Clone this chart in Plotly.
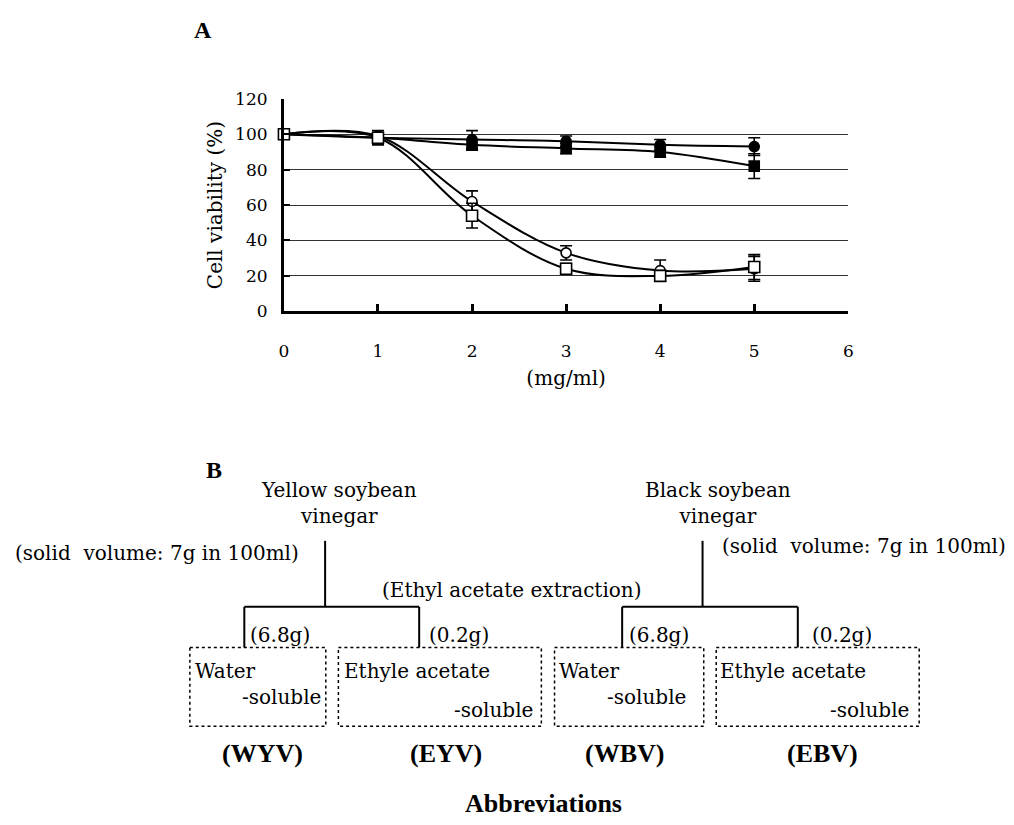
import plotly.graph_objects as go

# ---------------- data (panel A) ----------------
conc = [0, 1, 2, 3, 4, 5]
x_ticks = [0, 1, 2, 3, 4, 5, 6]
y_ticks = [0, 20, 40, 60, 80, 100, 120]

filled_circle = [100, 98, 97, 96, 94, 93]
filled_circle_err = [None, 2, 5, 3, 3, 5]
filled_square = [100, 98, 94, 92, 90, 82]
filled_square_err = [None, 2, 3, 3, 3, 7]
open_circle = [100, 99, 62, 33, 23, 24]
open_circle_err = [None, 2, 6, 4, 6, 7]
open_square = [100, 98, 54, 24, 20, 25]
open_square_err = [None, 4, 7, 3, 3, 7]

# ---------------- page geometry helpers ----------------
W, H = 1014, 825
def px(x):
    return x / W
def py(y):
    return 1 - y / H

SERIF = "DejaVu Serif"
BOLD = "Liberation Serif"

fig = go.Figure()

series = [
    (filled_circle, filled_circle_err, "circle", "black", 10),
    (filled_square, filled_square_err, "square", "black", 10),
    (open_circle, open_circle_err, "circle", "white", 10),
    (open_square, open_square_err, "square", "white", 11),
]
for vals, err, sym, fill, size in series:
    fig.add_trace(go.Scatter(
        x=conc, y=vals, mode="lines+markers",
        line=dict(color="black", width=2, shape="spline", smoothing=1.0),
        marker=dict(symbol=sym, size=size, color=fill,
                    line=dict(color="black", width=1.6)),
        error_y=dict(type="data", array=err, color="black", thickness=1.6, width=6),
        cliponaxis=False, showlegend=False,
    ))

fig.update_layout(
    width=W, height=H,
    margin=dict(l=0, r=0, t=0, b=0),
    paper_bgcolor="white", plot_bgcolor="white",
    font=dict(family=SERIF, size=17, color="black"),
    xaxis=dict(
        domain=[px(281.7), px(851.7)], range=[0, 6],
        tickmode="array", tickvals=x_ticks,
        showline=True, linecolor="black", linewidth=3,
        ticks="inside", ticklen=7, tickwidth=3, tickcolor="black",
        ticklabelstandoff=22,
        showgrid=False, zeroline=False,
        title=dict(text="(mg/ml)", font=dict(family=SERIF, size=20), standoff=12),
    ),
    yaxis=dict(
        domain=[py(308.8), py(91)], range=[0, 120],
        tickmode="array", tickvals=y_ticks,
        showline=True, linecolor="black", linewidth=3,
        ticks="inside", ticklen=6, tickwidth=2, tickcolor="black",
        ticklabelstandoff=10,
        showgrid=True, gridcolor="#333333", gridwidth=1,
        zeroline=False,
        title=dict(text="Cell viability (%)", font=dict(family=SERIF, size=20), standoff=8),
    ),
)

# ---------------- panel B: flow diagram ----------------
shapes = []
def seg(x0, y0, x1, y1, w=2, dash="solid"):
    shapes.append(dict(type="line", xref="paper", yref="paper",
                       x0=px(x0), y0=py(y0), x1=px(x1), y1=py(y1),
                       line=dict(color="black", width=w, dash=dash)))
def box(x0, y0, x1, y1):
    shapes.append(dict(type="rect", xref="paper", yref="paper",
                       x0=px(x0), y0=py(y0), x1=px(x1), y1=py(y1),
                       line=dict(color="black", width=1.5, dash="dot")))

for stem, left, right in [(323.3, 241.7, 418.3), (704.5, 623.3, 800.7)]:
    seg(stem, 544, stem, 611.7)
    seg(left, 611.7, right, 611.7)
    seg(left, 611.7, left, 653.3)
    seg(right, 611.7, right, 653.3)

box(186.7, 653.3, 324, 734)
box(336.7, 653.3, 541.7, 734)
box(555, 653.3, 705.7, 734)
box(718.3, 653.3, 923.3, 734)
fig.update_layout(shapes=shapes)

def text(t, x, y, size=20, bold=False, xanchor="center"):
    fig.add_annotation(
        text=t, x=px(x), y=py(y), xref="paper", yref="paper",
        xanchor=xanchor, yanchor="middle", showarrow=False,
        font=dict(family=BOLD if bold else SERIF, size=size, color="black"),
    )

text("<b>A</b>", 199.5, 20, size=24, bold=True)
text("<b>B</b>", 211.5, 471.5, size=24, bold=True)

text("Yellow soybean<br>vinegar", 337, 505)
text("Black soybean<br>vinegar", 720, 505)
text("(solid\u00a0\u00a0volume: 7g in 100ml)", 154, 557)
text("(solid\u00a0\u00a0volume: 7g in 100ml)", 868, 549)
text("(Ethyl acetate extraction)", 512.5, 594)

for cx in (277.5, 660.8):
    text("(6.8g)", cx, 641)
for cx in (459, 845):
    text("(0.2g)", cx, 641)

text("Water", 190, 677, xanchor="left")
text("-soluble", 321, 704, xanchor="right")
text("Ethyle acetate", 340, 677, xanchor="left")
text("-soluble", 535, 717, xanchor="right")
text("Water", 557, 677, xanchor="left")
text("-soluble", 690, 704, xanchor="right")
text("Ethyle acetate", 720, 677, xanchor="left")
text("-soluble", 915, 717, xanchor="right")

text("<b>(WYV)</b>", 260, 762, size=26, bold=True)
text("<b>(EYV)</b>", 445.5, 762, size=26, bold=True)
text("<b>(WBV)</b>", 626, 762, size=26, bold=True)
text("<b>(EBV)</b>", 826, 762, size=26, bold=True)
text("<b>Abbreviations</b>", 544, 813, size=26, bold=True)

fig.write_html(
    "out.html",
    config={"displayModeBar": False},
    post_script="document.body.style.margin='0';document.body.style.overflow='hidden';",
)
